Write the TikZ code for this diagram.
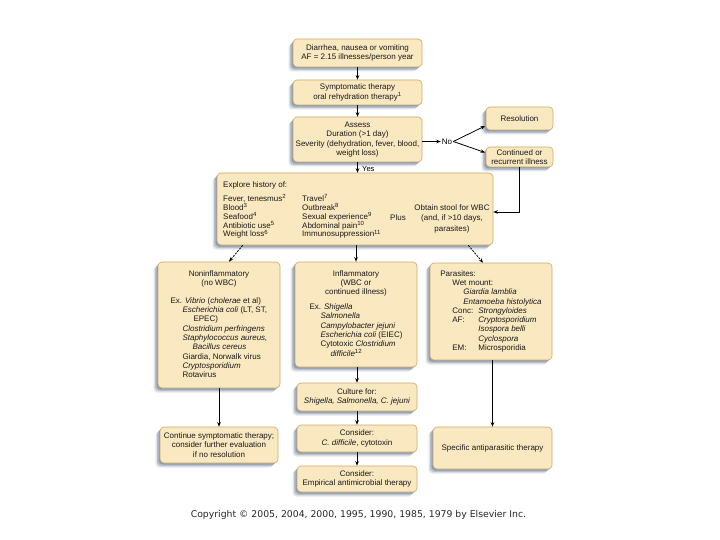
\documentclass[tikz,border=0pt]{standalone}
\usepackage{fontspec}
\setmainfont{Liberation Sans}
\newfontfamily\copyfont{DejaVu Sans}
\usetikzlibrary{shadows,arrows.meta}
\definecolor{boxfill}{RGB}{250,232,192}
\definecolor{boxline}{RGB}{205,168,105}
\definecolor{shcol}{RGB}{85,105,130}
\newcommand\sx[1]{\smash{\textsuperscript{#1}}}
\begin{document}
\begin{tikzpicture}[x=1pt,y=-1pt,
 box/.style={draw=boxline, line width=0.6pt, fill=boxfill, rounded corners=4pt,
   inner sep=1pt, align=center, text=black!90, font=\fontsize{8}{9.3}\selectfont,
   drop shadow={shadow xshift=-4.5pt,shadow yshift=-4.5pt,fill=shcol,opacity=0.18},
   drop shadow={shadow xshift=-3pt,shadow yshift=-3pt,fill=shcol,opacity=0.3},
   drop shadow={shadow xshift=-1.5pt,shadow yshift=-1.5pt,fill=shcol,opacity=0.4}},
 arr/.style={line width=0.8pt, -{Stealth[length=4.5pt,width=3.6pt]}},
 dsh/.style={dash pattern=on 2pt off 1.2pt},
 lbl/.style={font=\fontsize{8}{9}\selectfont, inner sep=1pt},
 txt/.style={inner sep=0pt, text=black!90, font=\fontsize{8}{8.8}\selectfont}]
\fill[white] (0,0) rectangle (720,540);
\useasboundingbox (0,0) rectangle (720,540);

% boxes
\node[box, minimum width=129pt, minimum height=28pt] (top) at (357.5,53)
  {Diarrhea, nausea or vomiting\\AF = 2.15 illnesses/person year};
\node[box, minimum width=129pt, minimum height=25pt] (sympt) at (357.5,92.5)
  {Symptomatic therapy\\oral rehydration therapy\textsuperscript{1}};
\node[box, minimum width=129pt, minimum height=45pt] (assess) at (357.5,139.5)
  {Assess\\Duration (>1 day)\\Severity (dehydration, fever, blood,\\weight loss)};
\node[box, minimum width=67pt, minimum height=23pt] (resol) at (519.5,118.5) {Resolution};
\node[box, minimum width=67pt, minimum height=20pt] (contin) at (519.5,157)
  {Continued or\\recurrent illness};

\node[box, minimum width=276pt, minimum height=72pt] (explore) at (355,209) {};
\node[txt, anchor=north west] (exlist) at (223,181.5)
  {\begin{tabular}{@{}p{79pt}@{}l@{}}
   \multicolumn{2}{@{}l@{}}{Explore history of:}\\[5pt]
   Fever, tenesmus\sx{2} & Travel\sx{7}\\
   Blood\sx{3} & Outbreak\sx{8}\\
   Seafood\sx{4} & Sexual experience\sx{9}\\
   Antibiotic use\sx{5} & Abdominal pain\sx{10}\\
   Weight loss\sx{6} & Immunosuppression\sx{11}
   \end{tabular}};
\node[txt] (plus) at (398,218) {Plus};
\node[txt, align=center, font=\fontsize{8}{10.5}\selectfont] (stool) at (452,218.5)
  {Obtain stool for WBC\\(and, if >10 days,\\parasites)};

\node[box, minimum width=122pt, minimum height=126pt] (noninf) at (219,325)
  {\begin{tabular}{@{}l@{}}
   \multicolumn{1}{@{}c@{}}{Noninflammatory}\\
   \multicolumn{1}{@{}c@{}}{(no WBC)}\\[8.7pt]
   Ex. \textit{Vibrio} (\textit{cholerae} et al)\\
   \hspace*{12pt}\textit{Escherichia coli} (LT, ST,\\
   \hspace*{23pt}EPEC)\\
   \hspace*{12pt}\textit{Clostridium perfringens}\\
   \hspace*{12pt}\textit{Staphylococcus aureus,}\\
   \hspace*{22pt}\textit{Bacillus cereus}\\
   \hspace*{12pt}Giardia, Norwalk virus\\
   \hspace*{12pt}\textit{Cryptosporidium}\\
   \hspace*{12pt}Rotavirus
   \end{tabular}};

\node[box, minimum width=122pt, minimum height=105pt] (inflam) at (356,314.5)
  {\begin{tabular}{@{}l@{}}
   \multicolumn{1}{@{}c@{}}{Inflammatory}\\
   \multicolumn{1}{@{}c@{}}{(WBC or}\\
   \multicolumn{1}{@{}c@{}}{continued illness)}\\[5.7pt]
   Ex. \textit{Shigella}\\
   \hspace*{11pt}\textit{Salmonella}\\
   \hspace*{11pt}\textit{Campylobacter jejuni}\\
   \hspace*{11pt}\textit{Escherichia coli} (EIEC)\\
   \hspace*{11pt}Cytotoxic \textit{Clostridium}\\
   \hspace*{21pt}\textit{difficile}\textsuperscript{12}
   \end{tabular}};

\node[box, minimum width=122pt, minimum height=97pt] (paras) at (491,311.5)
  {\begin{tabular}{@{}l@{}}
   Parasites:\\
   \hspace*{12pt}Wet mount:\\
   \hspace*{23pt}\textit{Giardia lamblia}\\
   \hspace*{23pt}\textit{Entamoeba histolytica}\\
   \hspace*{12pt}\makebox[26pt][l]{Conc:}\textit{Strongyloides}\\
   \hspace*{12pt}\makebox[26pt][l]{AF:}\textit{Cryptosporidium}\\
   \hspace*{38pt}\textit{Isospora belli}\\
   \hspace*{38pt}\textit{Cyclospora}\\
   \hspace*{12pt}\makebox[26pt][l]{EM:}Microsporidia
   \end{tabular}};

\node[box, minimum width=120pt, minimum height=28pt] (culture) at (357,397)
  {Culture for:\\\textit{Shigella, Salmonella, C. jejuni}};
\node[box, minimum width=120pt, minimum height=27pt] (consc) at (357,438.5)
  {Consider:\\\textit{C. difficile}, cytotoxin};
\node[box, minimum width=120pt, minimum height=26pt] (conse) at (357,479)
  {Consider:\\Empirical antimicrobial therapy};
\node[box, minimum width=118pt, minimum height=36pt] (contsym) at (219,445)
  {Continue symptomatic therapy;\\consider further evaluation\\if no resolution};
\node[box, minimum width=119pt, minimum height=42pt] (specific) at (492.5,448)
  {Specific antiparasitic therapy};

% labels
\node[lbl] (no) at (447,141.5) {No};
\node[lbl, anchor=west, font=\fontsize{7.5}{9}\selectfont] (yes) at (361,168.5) {Yes};
\coordinate (rin) at (485,126);
\coordinate (cin) at (485,152.5);

% connectors
\draw[arr] (top.south) -- (sympt.north);
\draw[arr] (sympt.south) -- (assess.north);
\draw[arr] (assess.south) -- (assess.south |- explore.north);
\draw[arr] (assess.east |- no.west) -- (no.west);
\draw[arr] (no.east) -- (rin);
\draw[arr] (no.east) -- (cin);
\draw[arr] (contin.south) |- ([yshift=-3pt]explore.east);
\draw[arr, dsh] ([xshift=26pt]explore.south west) -- ([xshift=10pt]noninf.north);
\draw[arr] (inflam.north |- explore.south) -- (inflam.north);
\draw[arr, dsh] ([xshift=-25pt]explore.south east) -- ([xshift=-8pt]paras.north);
\draw[arr] (noninf.south) -- (contsym.north);
\draw[arr] (culture.north |- inflam.south) -- (culture.north);
\draw[arr] (culture.south) -- (consc.north);
\draw[arr] (consc.south) -- (conse.north);
\draw[arr] (specific.north |- paras.south) -- (specific.north);

\node[font=\copyfont\fontsize{9.3}{11}\selectfont, text=black!85, inner sep=0pt] (copy) at (358.5,515)
  {Copyright © 2005, 2004, 2000, 1995, 1990, 1985, 1979 by Elsevier Inc.};
\end{tikzpicture}
\end{document}
